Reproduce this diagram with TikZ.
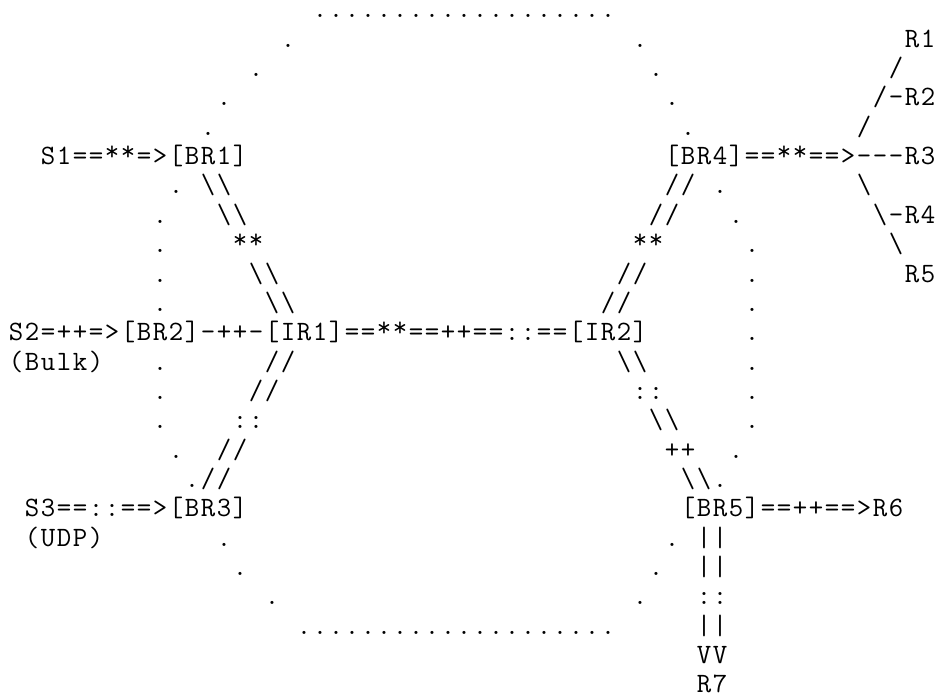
\documentclass[tikz,border=0pt]{standalone}
\usepackage{fontspec}
\usepackage{tikz}
\newcommand{\asciifont}{\ttfamily\fontsize{14pt}{14.667pt}\selectfont}
\newcommand{\bsl}{\textbackslash}
% one fixed 8pt cell per character, asterisks raised
\newcommand{\cells}[1]{\cellsloop#1\relax}
\def\cellsloop#1{\ifx#1\relax\else
  \ifx#1*\makebox[8pt]{\raisebox{2.2pt}{*}}\else\makebox[8pt]{#1}\fi
  \expandafter\cellsloop\fi}

\begin{document}
\begin{tikzpicture}[
  x=8pt, y={(0,-14.667pt)},
  asc/.style={anchor=base west, inner sep=0pt, outer sep=0pt, font=\asciifont}
]
\useasboundingbox (-4pt,9pt) rectangle (465.5pt,-338.5pt);

% domain rim, top and left
\node[asc] (rimtop) at (19,0) {\cells{...................}};
\node[asc] (la1) at (17,1) {\cells{.}};
\node[asc] (la2) at (15,2) {\cells{.}};
\node[asc] (la3) at (13,3) {\cells{.}};
\node[asc] (la4) at (12,4) {\cells{.}};
\node[asc] (la6) at (10,6) {\cells{.}};
\node[asc] (la7) at (9,7) {\cells{.}};
\node[asc] (la8) at (9,8) {\cells{.}};
\node[asc] (la9) at (9,9) {\cells{.}};
\node[asc] (la10) at (9,10) {\cells{.}};
\node[asc] (la12) at (9,12) {\cells{.}};
\node[asc] (la13) at (9,13) {\cells{.}};
\node[asc] (la14) at (9,14) {\cells{.}};
\node[asc] (la15) at (10,15) {\cells{.}};
\node[asc] (la18) at (13,18) {\cells{.}};
\node[asc] (la19) at (14,19) {\cells{.}};
\node[asc] (la20) at (16,20) {\cells{.}};
\node[asc] (rimbot) at (18,21) {\cells{....................}};

% domain rim, right
\node[asc] (ra1) at (39,1) {\cells{.}};
\node[asc] (ra2) at (40,2) {\cells{.}};
\node[asc] (ra3) at (41,3) {\cells{.}};
\node[asc] (ra4) at (42,4) {\cells{.}};
\node[asc] (ra6) at (44,6) {\cells{.}};
\node[asc] (ra7) at (45,7) {\cells{.}};
\node[asc] (ra8) at (46,8) {\cells{.}};
\node[asc] (ra9) at (46,9) {\cells{.}};
\node[asc] (ra10) at (46,10) {\cells{.}};
\node[asc] (ra11) at (46,11) {\cells{.}};
\node[asc] (ra12) at (46,12) {\cells{.}};
\node[asc] (ra13) at (46,13) {\cells{.}};
\node[asc] (ra14) at (46,14) {\cells{.}};
\node[asc] (ra15) at (45,15) {\cells{.}};
\node[asc] (ra18) at (41,18) {\cells{.}};
\node[asc] (ra19) at (40,19) {\cells{.}};
\node[asc] (ra20) at (39,20) {\cells{.}};

% sources and border routers
\node[asc] (s1) at (2,5) {\cells{S1==**=>[BR1]}};
\node[asc] (s2) at (0,11) {\cells{S2=++=>[BR2]-++-[IR1]==**==++==::==[IR2]}};
\node[asc] (bulk) at (0,12) {\cells{(Bulk)}};
\node[asc] (s3) at (1,17) {\cells{S3==::==>[BR3]}};
\node[asc] (udp) at (1,18) {\cells{(UDP)}};

% BR1 to IR1
\node[asc] (ba6) at (12,6) {\cells{\bsl\bsl}};
\node[asc] (ba7) at (13,7) {\cells{\bsl\bsl}};
\node[asc] (ba8) at (14,8) {\cells{**}};
\node[asc] (ba9) at (15,9) {\cells{\bsl\bsl}};
\node[asc] (ba10) at (16,10) {\cells{\bsl\bsl}};

% IR1 to BR3
\node[asc] (bc12) at (16,12) {\cells{//}};
\node[asc] (bc13) at (15,13) {\cells{//}};
\node[asc] (bc14) at (14,14) {\cells{::}};
\node[asc] (bc15) at (13,15) {\cells{//}};
\node[asc] (bc16) at (11,16) {\cells{.//}};

% IR2 to BR4
\node[asc] (bd6) at (41,6) {\cells{//}};
\node[asc] (bd7) at (40,7) {\cells{//}};
\node[asc] (bd8) at (39,8) {\cells{**}};
\node[asc] (bd9) at (38,9) {\cells{//}};
\node[asc] (bd10) at (37,10) {\cells{//}};

% IR2 to BR5
\node[asc] (be12) at (38,12) {\cells{\bsl\bsl}};
\node[asc] (be13) at (39,13) {\cells{::}};
\node[asc] (be14) at (40,14) {\cells{\bsl\bsl}};
\node[asc] (be15) at (41,15) {\cells{++}};
\node[asc] (be16) at (42,16) {\cells{\bsl\bsl.}};

% BR4 fan-out
\node[asc] (br4) at (41,5) {\cells{[BR4]==**==>---R3}};
\node[asc] (r1) at (56,1) {\cells{R1}};
\node[asc] (fa2) at (55,2) {\cells{/}};
\node[asc] (r2) at (54,3) {\cells{/-R2}};
\node[asc] (fa4) at (53,4) {\cells{/}};
\node[asc] (fa6) at (53,6) {\cells{\bsl}};
\node[asc] (r4) at (54,7) {\cells{\bsl-R4}};
\node[asc] (fa8) at (55,8) {\cells{\bsl}};
\node[asc] (r5) at (56,9) {\cells{R5}};

% BR5 outputs
\node[asc] (br5) at (42,17) {\cells{[BR5]==++==>R6}};
\node[asc] (bf18) at (43,18) {\cells{||}};
\node[asc] (bf19) at (43,19) {\cells{||}};
\node[asc] (bf20) at (43,20) {\cells{::}};
\node[asc] (bf21) at (43,21) {\cells{||}};
\node[asc] (bf22) at (43,22) {\cells{VV}};
\node[asc] (r7) at (43,23) {\cells{R7}};
\end{tikzpicture}
\end{document}
